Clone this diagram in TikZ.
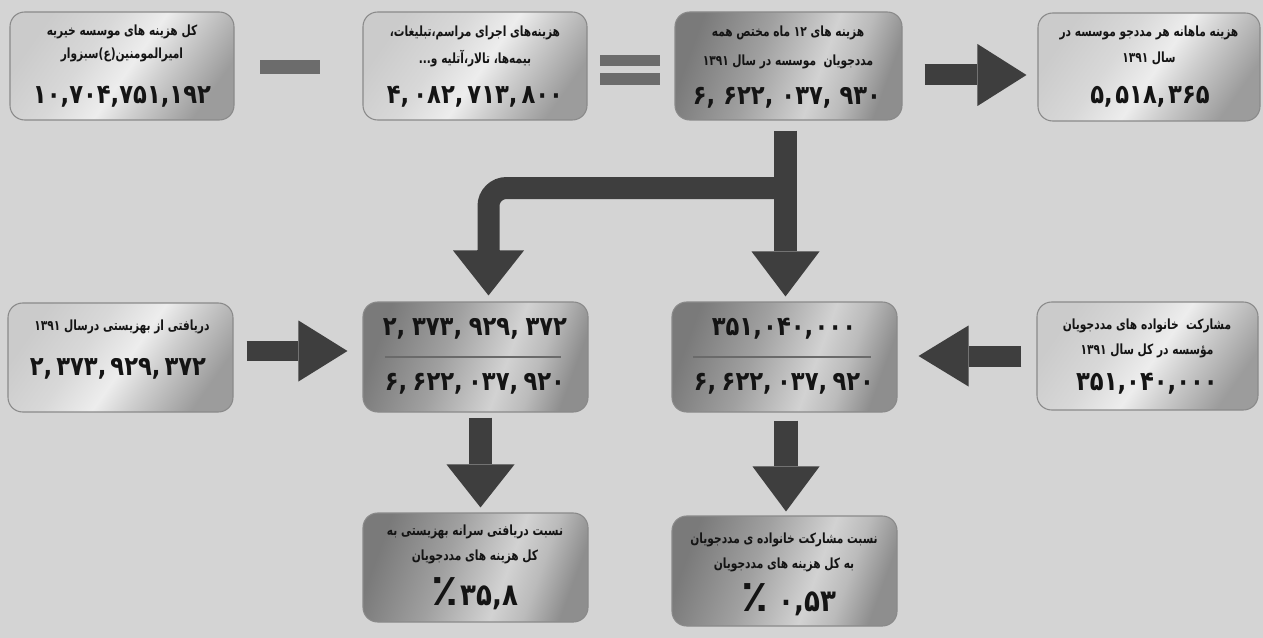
\documentclass[tikz,border=0pt]{standalone}
\usepackage{fontspec}
\usetikzlibrary{arrows.meta,calc}
\TeXXeTstate=1
\newfontfamily\fa[Script=Arabic,FakeStretch=0.76]{DejaVu Sans}
\newfontfamily\fanum[Script=Arabic,FakeStretch=0.85]{DejaVu Sans}
\newfontfamily\fapct[Script=Arabic]{DejaVu Sans}
\newcommand{\RTLtxt}[1]{\beginR #1\endR}
\newcommand{\bigpct}{{\fapct\bfseries\fontsize{33}{33}\selectfont ٪}}
\newcommand{\gsep}[1]{\kern0pt,\kern#1pt\relax}
\definecolor{bgc}{HTML}{D4D4D4}
\definecolor{arr}{HTML}{3E3E3E}
\definecolor{opc}{HTML}{6C6C6C}
\definecolor{bord}{HTML}{8A8A8A}
\definecolor{txt}{HTML}{141414}
\definecolor{rulec}{HTML}{6A6A6A}
\definecolor{la}{HTML}{CBCBCB}
\definecolor{lb}{HTML}{D8D8D8}
\definecolor{lc}{HTML}{EDEDED}
\definecolor{ld}{HTML}{CFCFCF}
\definecolor{le}{HTML}{9C9C9C}
\definecolor{da}{HTML}{7A7A7A}
\definecolor{db}{HTML}{A0A0A0}
\definecolor{dc}{HTML}{D2D2D2}
\definecolor{dd}{HTML}{BBBBBB}
\definecolor{de}{HTML}{8E8E8E}
\pgfdeclarehorizontalshading{lightsh}{100bp}{color(0bp)=(la); color(25bp)=(la); color(40bp)=(lb); color(52bp)=(lc); color(60bp)=(ld); color(75bp)=(le); color(100bp)=(le)}
\pgfdeclarehorizontalshading{darksh}{100bp}{color(0bp)=(da); color(25bp)=(da); color(42bp)=(db); color(58bp)=(dc); color(66bp)=(dd); color(75bp)=(de); color(100bp)=(de)}
\tikzset{
  bx/.style 2 args={minimum width={#1*0.75pt}, minimum height={#2*0.75pt}},
  boxbase/.style={rounded corners=11pt, draw=bord, line width=0.8pt, inner sep=0pt},
  lightbox/.style={boxbase, shade, shading=lightsh, shading angle=-35},
  darkbox/.style={boxbase, shade, shading=darksh, shading angle=-20},
  lbl/.style={font=\fa\bfseries\fontsize{10.5}{12}\selectfont, text=txt, inner sep=0pt},
  num/.style={font=\fanum\bfseries\fontsize{20}{24}\selectfont, text=txt, inner sep=0pt},
  pctnum/.style={font=\fanum\bfseries\fontsize{23}{26}\selectfont, text=txt, inner sep=0pt},
  opbar/.style={fill=opc, draw=none, inner sep=0pt},
  blk/.style n args={3}{draw=arr, line width=#1, -{Triangle[length=#2,width=#3,line width=0pt]}},
  shaft/.style={draw=arr, line width=#1},
  divider/.style={draw=rulec, line width=1.1pt}
}
\begin{document}
\begin{tikzpicture}[x=0.75pt,y=-0.75pt]
\useasboundingbox (0,0) rectangle (1263,638);
\fill[bgc] (0,0) rectangle (1263,638);
% boxes
\node[lightbox, bx={224}{108}] (b1) at (122,66) {};
\node[lightbox, bx={224}{108}] (b2) at (475,66) {};
\node[darkbox, bx={227}{108}] (b3) at (788.5,66) {};
\node[lightbox, bx={222}{108}] (b4) at (1149,67) {};
\node[lightbox, bx={225}{109}] (b5) at (120.5,357.5) {};
\node[darkbox, bx={225}{110}] (b6) at (475.5,357) {};
\node[darkbox, bx={225}{110}] (b7) at (784.5,357) {};
\node[lightbox, bx={221}{108}] (b8) at (1147.5,356) {};
\node[darkbox, bx={225}{109}] (b9) at (475.5,567.5) {};
\node[darkbox, bx={225}{110}] (b10) at (784.5,571) {};
% operators
\node[opbar, bx={60}{14}] (minus) at (290,67) {};
\node[opbar, bx={60}{11}] (eqa) at (630,60.5) {};
\node[opbar, bx={60}{12}] (eqb) at (630,79) {};
% texts
\node[lbl] (t1a) at (122,32) {\RTLtxt{کل هزینه های موسسه خیریه}};
\node[lbl] (t1b) at (122,55) {\RTLtxt{امیرالمومنین(ع)سبزوار}};
\node[num] (n1) at (122,97) {۱۰,۷۰۴,۷۵۱,۱۹۲};
\node[lbl] (t2a) at (475,33) {\RTLtxt{هزینه‌های اجرای مراسم،تبلیغات،}};
\node[lbl] (t2b) at (475,59) {\RTLtxt{بیمه‌ها، تالار،آتلیه و...}};
\node[num] (n2) at (475,97) {۴\gsep{3}۰۸۲\gsep{3}۷۱۳\gsep{3}۸۰۰};
\node[lbl] (t3a) at (788,33) {\RTLtxt{هزینه های ۱۲ ماه مختص همه}};
\node[lbl] (t3b) at (788,62) {\RTLtxt{مددجویان\ \ موسسه در سال ۱۳۹۱}};
\node[num] (n3) at (787,98) {۶\gsep{6}۶۲۲\gsep{6}۰۳۷\gsep{6}۹۳۰};
\node[lbl] (t4a) at (1149,33) {\RTLtxt{هزینه ماهانه هر مددجو موسسه در}};
\node[lbl] (t4b) at (1149,58) {\RTLtxt{سال ۱۳۹۱}};
\node[num] (n4) at (1150,97) {۵\gsep{2}۵۱۸\gsep{2}۳۶۵};
\node[lbl] (t5a) at (122,327) {\RTLtxt{دریافتی از بهزیستی درسال ۱۳۹۱}};
\node[num] (n5) at (118,369) {۲\gsep{3}۳۷۳\gsep{3}۹۲۹\gsep{3}۳۷۲};
\node[num] (n6a) at (475,329) {۲\gsep{5}۳۷۳\gsep{5}۹۲۹\gsep{5}۳۷۲};
\node[num] (n6b) at (475,384) {۶\gsep{4}۶۲۲\gsep{4}۰۳۷\gsep{4}۹۲۰};
\node[num] (n7a) at (784,329) {۳۵۱\gsep{1}۰۴۰\gsep{1}۰۰۰};
\node[num] (n7b) at (784,384) {۶\gsep{4}۶۲۲\gsep{4}۰۳۷\gsep{4}۹۲۰};
\node[lbl] (t8a) at (1147,326) {\RTLtxt{مشارکت\ \ خانواده های مددجویان}};
\node[lbl] (t8b) at (1147,351) {\RTLtxt{مؤسسه در کل سال ۱۳۹۱}};
\node[num] (n8) at (1147,384) {۳۵۱,۰۴۰,۰۰۰};
\node[lbl] (t9a) at (475,532) {\RTLtxt{نسبت دریافتی سرانه بهزیستی به}};
\node[lbl] (t9b) at (475,557) {\RTLtxt{کل هزینه های مددجویان}};
\node[pctnum] (n9) at (475,594) {\RTLtxt{۳۵,۸\kern2pt\bigpct}};
\node[lbl] (t10a) at (784,540) {\RTLtxt{نسبت مشارکت خانواده ی مددجویان}};
\node[lbl] (t10b) at (784,565) {\RTLtxt{به کل هزینه های مددجویان}};
\node[pctnum] (n10) at (789,600) {\RTLtxt{۰,۵۳\kern8pt\bigpct}};
% dividers
\draw[divider] ($(b6.center)+(-91,0)$) -- ($(b6.center)+(85,0)$);
\draw[divider] ($(b7.center)+(-92,0)$) -- ($(b7.center)+(86,0)$);
% arrows
\coordinate (a1s) at ($(b3.east)+(22,9)$);
\coordinate (a1e) at ($(b4.west)+(-11,0)$);
\draw[blk={15.75pt}{36.75pt}{46.5pt}] (a1s) -- (a1s -| a1e);
\coordinate (a2s) at ($(b5.east)+(13,-6.5)$);
\coordinate (a2e) at ($(b6.west)+(-15,0)$);
\draw[blk={15pt}{36.75pt}{45.75pt}] (a2s) -- (a2s -| a2e);
\coordinate (a3s) at ($(b8.west)+(-15,0)$);
\coordinate (a3e) at ($(b7.east)+(21,0)$);
\draw[blk={15.75pt}{37.5pt}{45.75pt}] (a3s) -- (a3s -| a3e);
\coordinate (a4s) at ($(b6.south)+(5,5)$);
\coordinate (a4e) at ($(b9.north)+(0,-5)$);
\draw[blk={17.25pt}{32.25pt}{51pt}] (a4s) -- (a4s |- a4e);
\coordinate (a5s) at ($(b7.south)+(1.5,8)$);
\coordinate (a5e) at ($(b10.north)+(0,-4)$);
\draw[blk={18pt}{33.75pt}{50.25pt}] (a5s) -- (a5s |- a5e);
\coordinate (a6s) at ($(b3.south)+(-3,10)$);
\coordinate (a6e) at ($(b7.north)+(0,-5)$);
\draw[blk={17.25pt}{33.75pt}{51pt}] (a6s) -- (a6s |- a6e);
\coordinate (a7j) at ($(b3.south)+(-3,67.5)$);
\coordinate (a7c) at ($(b6.north)+(13,-45)$);
\coordinate (a7e) at ($(b6.north)+(13,-6)$);
\draw[shaft=16.5pt, rounded corners=13.5pt] (a7j) -| (a7c);
\draw[blk={17.25pt}{33.75pt}{53.25pt}] ($(a7c)+(0,-3)$) -- (a7e);
\end{tikzpicture}
\end{document}
